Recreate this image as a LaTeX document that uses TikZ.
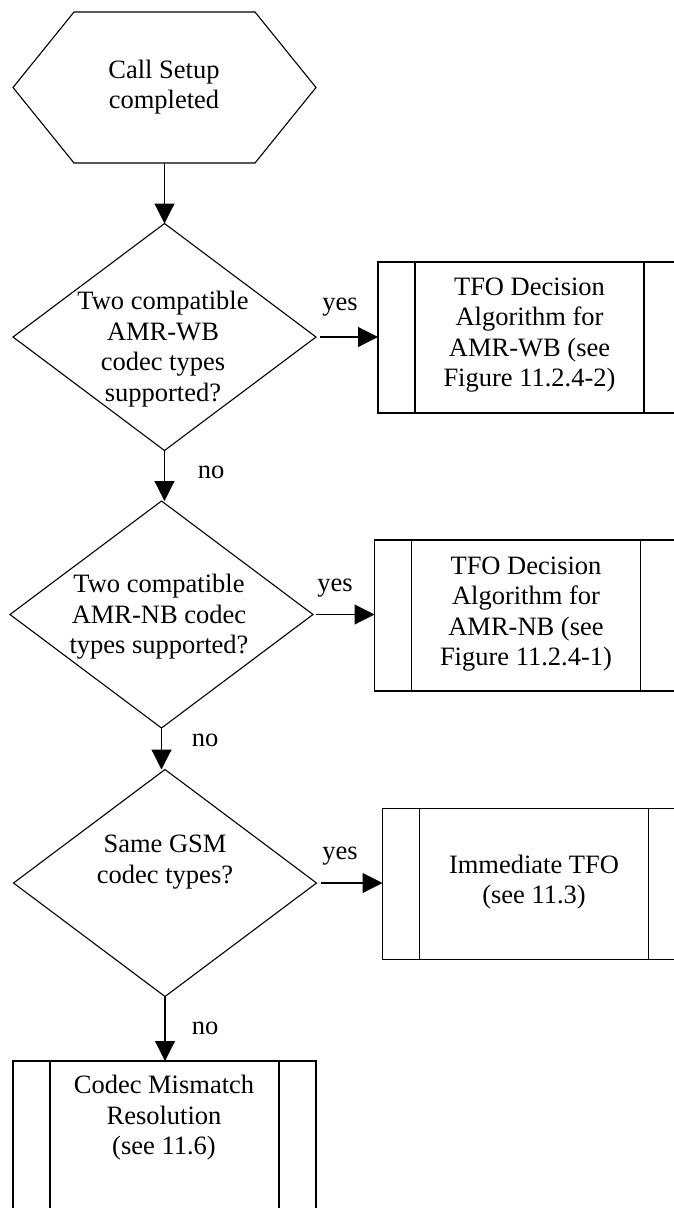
\documentclass[tikz,border=0pt]{standalone}
\usepackage{fontspec}
\setmainfont{Liberation Serif}
\usetikzlibrary{shapes.geometric,arrows.meta}
\begin{document}
\begin{tikzpicture}[x=1pt,y=-1pt,
  line width=1.1pt,
  txt/.style={align=center, inner sep=0pt, font=\fontsize{26.5}{30.5}\selectfont},
  lbl/.style={inner sep=0pt, font=\fontsize{26.5}{30.5}\selectfont},
  dec/.style={draw, diamond, inner sep=0pt, outer sep=0pt, minimum width=303pt, minimum height=227pt},
  hexbox/.style={inner sep=0pt, outer sep=0pt, minimum width=303pt, minimum height=151pt},
  procbox/.style={draw, rectangle, inner sep=0pt, outer sep=0pt, minimum width=303pt, minimum height=151pt,
     path picture={
       \draw ([xshift=37pt]path picture bounding box.north west) -- ([xshift=37pt]path picture bounding box.south west);
       \draw ([xshift=-37pt]path picture bounding box.north east) -- ([xshift=-37pt]path picture bounding box.south east);}},
  flow/.style={-{Triangle[length=20pt,width=20pt]}}
]
\fill[white, use as bounding box] (0,0) rectangle (674,1208);
\clip (0,0) rectangle (674,1208);

% start hexagon
\node[hexbox] (hex) at (164.5,87.5) {};
\draw ([xshift=61pt]hex.north west) -- ([xshift=-61pt]hex.north east) -- (hex.east)
  -- ([xshift=-61pt]hex.south east) -- ([xshift=61pt]hex.south west) -- (hex.west) -- cycle;
\node[txt] (hext) at (164,87) {Call Setup\\completed};

% decisions
\node[dec] (d1) at (164.5,337) {};
\node[txt] (d1t) at (163,349) {Two compatible\\AMR-WB\\codec types\\supported?};
\node[dec] (d2) at (161.5,614.5) {};
\node[txt] (d2t) at (159,617) {Two compatible\\AMR-NB codec\\types supported?};
\node[dec] (d3) at (165,883) {};
\node[txt] (d3t) at (165,862) {Same GSM\\codec types?};

% process boxes
\node[procbox] (b1) at (529.5,337.5) {};
\node[txt] (b1t) at (529.5,335) {TFO Decision\\Algorithm for\\AMR-WB (see\\Figure 11.2.4-2)};
\node[procbox] (b2) at (526,615.5) {};
\node[txt] (b2t) at (526,614) {TFO Decision\\Algorithm for\\AMR-NB (see\\Figure 11.2.4-1)};
\node[procbox] (b3) at (534,884) {};
\node[txt] (b3t) at (534,882) {Immediate TFO\\(see 11.3)};
\node[procbox] (b4) at (164.5,1136.5) {};
\node[txt] (b4t) at (164,1118) {Codec Mismatch\\Resolution\\(see 11.6)};

% connectors
\draw[flow] (hex.south) -- (d1.north);
\draw[flow] (d1.south) -- (d1.south |- d2.north);
\draw[flow] (d2.south) -- (d2.south |- d3.north);
\draw[flow] (d3.south) -- (d3.south |- b4.north);
\draw[flow] ([xshift=4pt]d1.east) -- (d1.east -| b1.west);
\draw[flow] ([xshift=3pt]d2.east) -- (d2.east -| b2.west);
\draw[flow] ([xshift=4pt]d3.east) -- (d3.east -| b3.west);

% labels
\node[lbl] (y1) at (340,307) {yes};
\node[lbl] (y2) at (335,588) {yes};
\node[lbl] (y3) at (340,856) {yes};
\node[lbl] (n1) at (211,472) {no};
\node[lbl] (n2) at (205,740) {no};
\node[lbl] (n3) at (205,1028) {no};
\end{tikzpicture}
\end{document}
